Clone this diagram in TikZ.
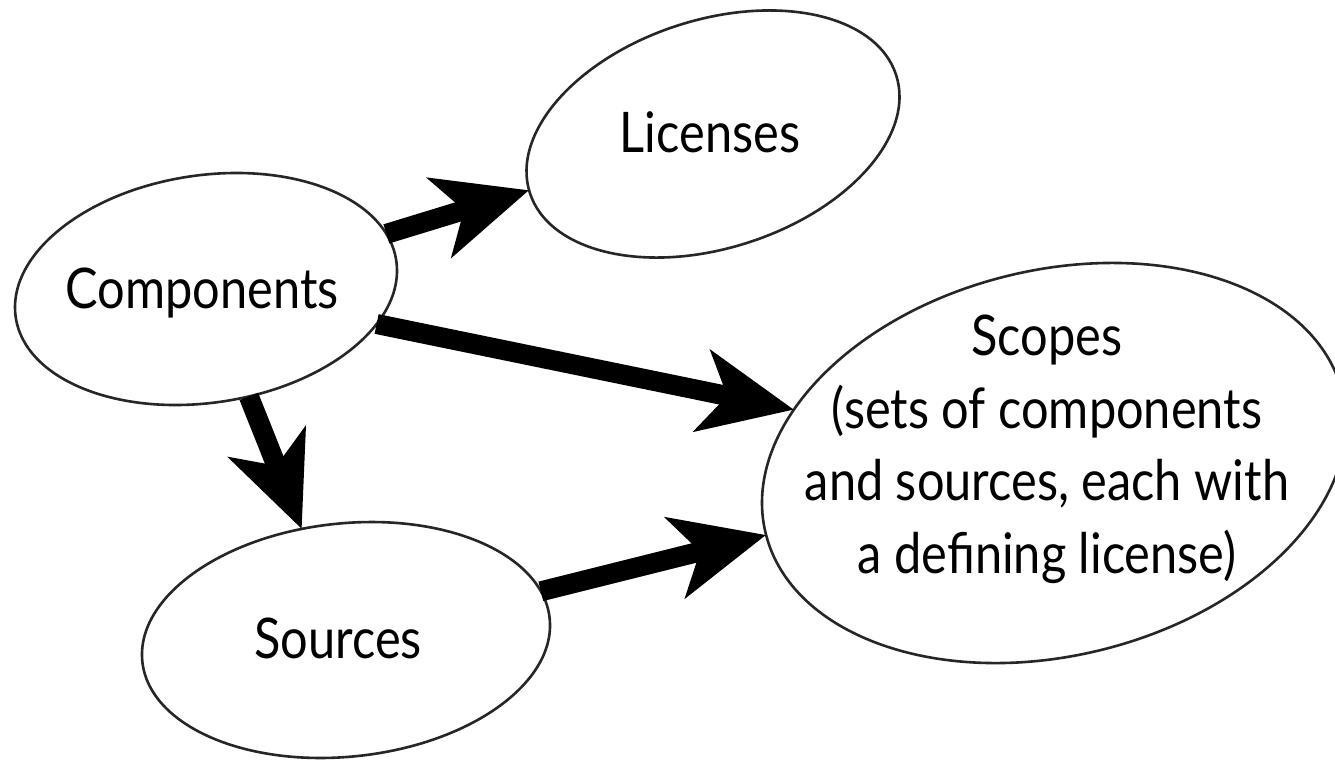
\documentclass[tikz,border=0pt]{standalone}
\usepackage{fontspec}
\setmainfont[FakeStretch=0.87]{Lato}
\usetikzlibrary{shapes.geometric,arrows.meta}
\begin{document}
\begin{tikzpicture}[x=1pt,y=-1pt,
  oval/.style={draw=black!85, line width=2.6pt, ellipse, inner sep=0pt, outer sep=0pt},
  lbl/.style={font=\fontsize{56}{72.5}\selectfont, inner sep=0pt, anchor=base, align=center},
  arr/.style={line width=20pt, -{Stealth[length=93pt,width=82pt,inset=25pt]}}]
\clip (0,0) rectangle (1335,761);
\fill[white] (0,0) rectangle (1335,761);
\node[oval, minimum width=384.8pt, minimum height=228.2pt, rotate=17.8] (lic) at (713,134) {};
\node[oval, minimum width=384.8pt, minimum height=227.4pt, rotate=8.5] (comp) at (206,289) {};
\node[oval, minimum width=409.6pt, minimum height=233.2pt, rotate=6.1] (src) at (346,640) {};
\node[oval, minimum width=593.6pt, minimum height=385.6pt, rotate=13.65] (scp) at (1054,463) {};
\node[lbl] (licT) at (710,152) {Licenses};
\node[lbl] (compT) at (202,308) {Components};
\node[lbl] (srcT) at (338,658) {Sources};
\node[lbl] (scpT) at (1047,573) {Scopes\\(sets of components\\and sources, each with\\a defining license)};
\draw[arr] (comp) -- (lic);
\draw[arr] (comp) -- (scp);
\draw[arr] (comp) -- (src);
\draw[arr] (src) -- (scp);
\end{tikzpicture}
\end{document}
